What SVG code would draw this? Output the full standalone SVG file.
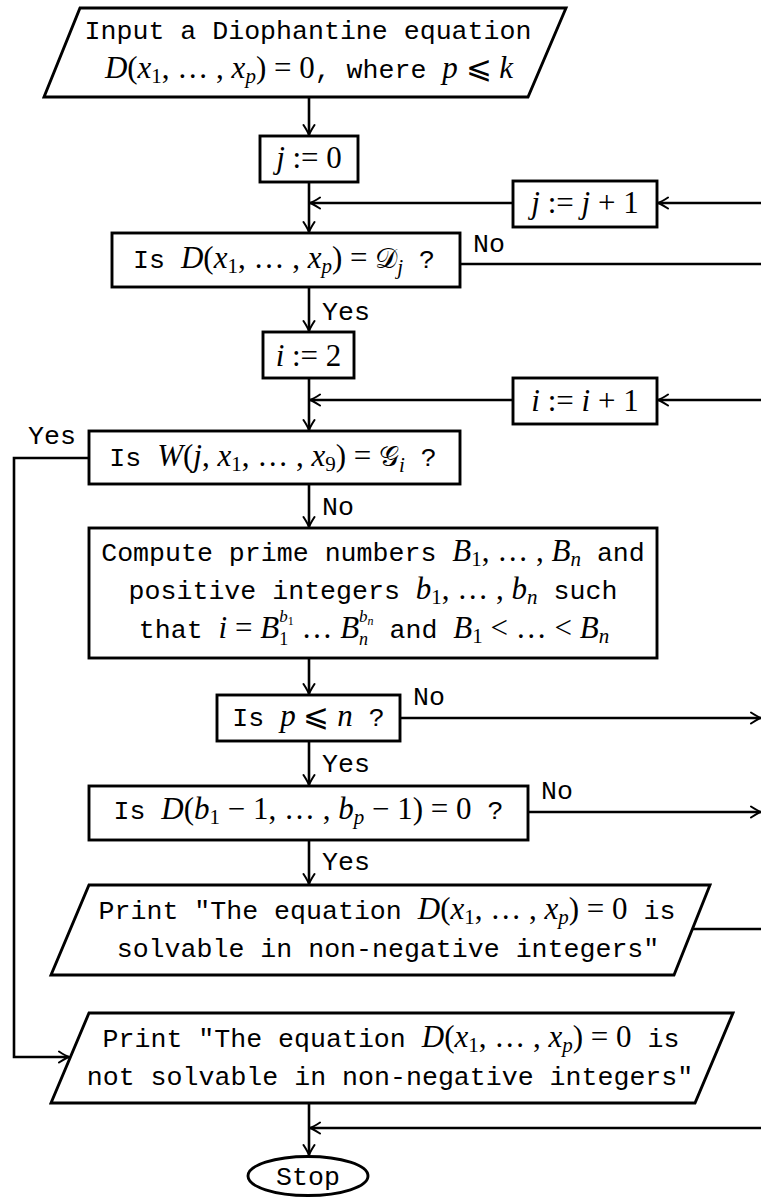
<svg xmlns="http://www.w3.org/2000/svg" width="761" height="1198" viewBox="0 0 761 1198">
<style>
.box{fill:#fff;stroke:#000;stroke-width:2.9}
.ln{fill:none;stroke:#000;stroke-width:2.6}
.t{font-family:"Liberation Mono","DejaVu Sans Mono",monospace;font-size:26.6px;fill:#000}
.m{font-family:"Liberation Serif","DejaVu Serif",serif;font-style:italic;font-size:31px}
.r{font-family:"Liberation Serif","DejaVu Serif",serif;font-style:normal;font-size:31px}
.s{font-family:"Liberation Serif","DejaVu Serif",serif;font-style:normal;font-size:21px}
.si{font-family:"Liberation Serif","DejaVu Serif",serif;font-style:italic;font-size:21px}
.us{font-family:"Liberation Serif","DejaVu Serif",serif;font-style:normal;font-size:18px}
.usi{font-family:"Liberation Serif","DejaVu Serif",serif;font-style:italic;font-size:18px}
.ps{font-family:"Liberation Serif","DejaVu Serif",serif;font-style:italic;font-size:17px}
.ss{font-family:"Liberation Serif","DejaVu Serif",serif;font-style:normal;font-size:12px}
.ssi{font-family:"Liberation Serif","DejaVu Serif",serif;font-style:italic;font-size:12px}
.cal{font-family:"DejaVu Serif","Noto Sans",serif;font-style:normal;font-size:28px}
text{fill:#000}
</style>
<defs>
<marker id="ah" viewBox="-12 -7 14 14" refX="0" refY="0" markerWidth="14" markerHeight="14" markerUnits="userSpaceOnUse" orient="auto">
<path d="M-10,-5.5 Q-3.5,-1.3 0,0 Q-3.5,1.3 -10,5.5" fill="none" stroke="#000" stroke-width="2" stroke-linecap="round"/>
</marker>
</defs>
<rect width="761" height="1198" fill="#fff"/>

<g id="connectors">
<path class="ln" d="M309,98 V135" marker-end="url(#ah)"/>
<path class="ln" d="M309,182 V232" marker-end="url(#ah)"/>
<path class="ln" d="M513,203 H310" marker-end="url(#ah)"/>
<path class="ln" d="M761,203 H658" marker-end="url(#ah)"/>
<path class="ln" d="M460,264 H761"/>
<path class="ln" d="M309,287 V331" marker-end="url(#ah)"/>
<path class="ln" d="M309,378 V430" marker-end="url(#ah)"/>
<path class="ln" d="M513,400 H310" marker-end="url(#ah)"/>
<path class="ln" d="M761,400 H658" marker-end="url(#ah)"/>
<path class="ln" d="M89,458 H14 V1057 H69" marker-end="url(#ah)"/>
<path class="ln" d="M309,484 V527" marker-end="url(#ah)"/>
<path class="ln" d="M309,658 V694" marker-end="url(#ah)"/>
<path class="ln" d="M400,718 H761" marker-end="url(#ah)"/>
<path class="ln" d="M309,741 V785" marker-end="url(#ah)"/>
<path class="ln" d="M528,812 H761" marker-end="url(#ah)"/>
<path class="ln" d="M309,840 V884" marker-end="url(#ah)"/>
<path class="ln" d="M692,929 H761"/>
<path class="ln" d="M309,1103 V1155" marker-end="url(#ah)"/>
<path class="ln" d="M761,1128 H310" marker-end="url(#ah)"/>
<text class="t" x="473" y="252">No</text>
<text class="t" x="322" y="320">Yes</text>
<text class="t" x="28" y="444">Yes</text>
<text class="t" x="322" y="515">No</text>
<text class="t" x="413" y="705">No</text>
<text class="t" x="322" y="772">Yes</text>
<text class="t" x="541" y="799">No</text>
<text class="t" x="322" y="870">Yes</text>
</g>

<g id="input">
<polygon class="box" points="80,8 566,8 528,97 44,97"/>
<text class="t" x="308" y="39" text-anchor="middle">Input a Diophantine equation</text>
<text x="309" y="78" text-anchor="middle" xml:space="preserve"><tspan class="m">D</tspan><tspan class="r">(</tspan><tspan class="m">x</tspan><tspan class="s" dy="5">1</tspan><tspan class="r" dy="-5">, … , </tspan><tspan class="m">x</tspan><tspan class="si" dy="5">p</tspan><tspan class="r" dy="-5">) = 0</tspan><tspan class="t">, where </tspan><tspan class="m">p</tspan><tspan class="r"> ⩽ </tspan><tspan class="m">k</tspan></text>
</g>

<g id="j0">
<rect class="box" x="260" y="136" width="98" height="46"/>
<text x="309" y="168" text-anchor="middle" xml:space="preserve"><tspan class="m">j</tspan><tspan class="r"> := 0</tspan></text>
</g>

<g id="jinc">
<rect class="box" x="513" y="181" width="144" height="46"/>
<text x="585" y="213" text-anchor="middle" xml:space="preserve"><tspan class="m">j</tspan><tspan class="r"> := </tspan><tspan class="m">j</tspan><tspan class="r"> + 1</tspan></text>
</g>

<g id="isD">
<rect class="box" x="112" y="233" width="348" height="54"/>
<text x="284" y="268" text-anchor="middle" xml:space="preserve"><tspan class="t">Is </tspan><tspan class="m">D</tspan><tspan class="r">(</tspan><tspan class="m">x</tspan><tspan class="s" dy="5">1</tspan><tspan class="r" dy="-5">, … , </tspan><tspan class="m">x</tspan><tspan class="si" dy="5">p</tspan><tspan class="r" dy="-5">) = </tspan><tspan class="cal">𝒟</tspan><tspan class="si" dy="6">j</tspan><tspan class="t" dy="-6"> ?</tspan></text>
</g>

<g id="i2">
<rect class="box" x="263" y="332" width="91" height="46"/>
<text x="308.5" y="366" text-anchor="middle" xml:space="preserve"><tspan class="m">i</tspan><tspan class="r"> := 2</tspan></text>
</g>

<g id="iinc">
<rect class="box" x="513" y="378" width="144" height="46"/>
<text x="585" y="411" text-anchor="middle" xml:space="preserve"><tspan class="m">i</tspan><tspan class="r"> := </tspan><tspan class="m">i</tspan><tspan class="r"> + 1</tspan></text>
</g>

<g id="isW">
<rect class="box" x="89" y="431" width="371" height="53"/>
<text x="273" y="466" text-anchor="middle" xml:space="preserve"><tspan class="t">Is </tspan><tspan class="m">W</tspan><tspan class="r">(</tspan><tspan class="m">j</tspan><tspan class="r">, </tspan><tspan class="m">x</tspan><tspan class="s" dy="5">1</tspan><tspan class="r" dy="-5">, … , </tspan><tspan class="m">x</tspan><tspan class="s" dy="5">9</tspan><tspan class="r" dy="-5">) = </tspan><tspan class="cal">𝒢</tspan><tspan class="si" dy="6">i</tspan><tspan class="t" dy="-6"> ?</tspan></text>
</g>

<g id="compute">
<rect class="box" x="89" y="528" width="568" height="130"/>
<text x="373" y="561" text-anchor="middle" xml:space="preserve"><tspan class="t">Compute prime numbers </tspan><tspan class="m">B</tspan><tspan class="s" dy="5">1</tspan><tspan class="r" dy="-5">, … , </tspan><tspan class="m">B</tspan><tspan class="si" dy="5">n</tspan><tspan class="t" dy="-5"> and</tspan></text>
<text x="373" y="599" text-anchor="middle" xml:space="preserve"><tspan class="t">positive integers </tspan><tspan class="m">b</tspan><tspan class="s" dy="5">1</tspan><tspan class="r" dy="-5">, … , </tspan><tspan class="m">b</tspan><tspan class="si" dy="5">n</tspan><tspan class="t" dy="-5"> such</tspan></text>
<text x="374" y="638" text-anchor="middle" xml:space="preserve"><tspan class="t">that </tspan><tspan class="m">i</tspan><tspan class="r"> = </tspan><tspan class="m">B</tspan><tspan class="ps" dy="-16">b</tspan><tspan class="ss" dy="3">1</tspan><tspan class="us" dx="-14.5" dy="20">1</tspan><tspan class="r" dx="5.5" dy="-7"> … </tspan><tspan class="m">B</tspan><tspan class="ps" dy="-16">b</tspan><tspan class="ssi" dy="3">n</tspan><tspan class="usi" dx="-14.5" dy="20">n</tspan><tspan class="t" dx="5.5" dy="-7"> and </tspan><tspan class="m">B</tspan><tspan class="s" dy="5">1</tspan><tspan class="r" dy="-5"> &lt; … &lt; </tspan><tspan class="m">B</tspan><tspan class="si" dy="5">n</tspan></text>
</g>

<g id="isPN">
<rect class="box" x="217" y="695" width="183" height="46"/>
<text x="308.5" y="726" text-anchor="middle" xml:space="preserve"><tspan class="t">Is </tspan><tspan class="m">p</tspan><tspan class="r"> ⩽ </tspan><tspan class="m">n</tspan><tspan class="t"> ?</tspan></text>
</g>

<g id="isDb">
<rect class="box" x="89" y="786" width="439" height="54"/>
<text x="308.5" y="819" text-anchor="middle" xml:space="preserve"><tspan class="t">Is </tspan><tspan class="m">D</tspan><tspan class="r">(</tspan><tspan class="m">b</tspan><tspan class="s" dy="5">1</tspan><tspan class="r" dy="-5"> − 1, … , </tspan><tspan class="m">b</tspan><tspan class="si" dy="5">p</tspan><tspan class="r" dy="-5"> − 1) = 0</tspan><tspan class="t"> ?</tspan></text>
</g>

<g id="print1">
<polygon class="box" points="89,885 710,885 674,975 51,975"/>
<text x="387" y="919" text-anchor="middle" xml:space="preserve"><tspan class="t">Print "The equation </tspan><tspan class="m">D</tspan><tspan class="r">(</tspan><tspan class="m">x</tspan><tspan class="s" dy="5">1</tspan><tspan class="r" dy="-5">, … , </tspan><tspan class="m">x</tspan><tspan class="si" dy="5">p</tspan><tspan class="r" dy="-5">) = 0</tspan><tspan class="t"> is</tspan></text>
<text class="t" x="388" y="957" text-anchor="middle">solvable in non-negative integers"</text>
</g>

<g id="print2">
<polygon class="box" points="89,1013 733,1013 695,1103 51,1103"/>
<text x="391" y="1047" text-anchor="middle" xml:space="preserve"><tspan class="t">Print "The equation </tspan><tspan class="m">D</tspan><tspan class="r">(</tspan><tspan class="m">x</tspan><tspan class="s" dy="5">1</tspan><tspan class="r" dy="-5">, … , </tspan><tspan class="m">x</tspan><tspan class="si" dy="5">p</tspan><tspan class="r" dy="-5">) = 0</tspan><tspan class="t"> is</tspan></text>
<text class="t" x="390" y="1085" text-anchor="middle">not solvable in non-negative integers"</text>
</g>

<g id="stop">
<ellipse class="box" cx="308" cy="1176" rx="60" ry="19.5"/>
<text class="t" x="308" y="1185" text-anchor="middle">Stop</text>
</g>
</svg>
